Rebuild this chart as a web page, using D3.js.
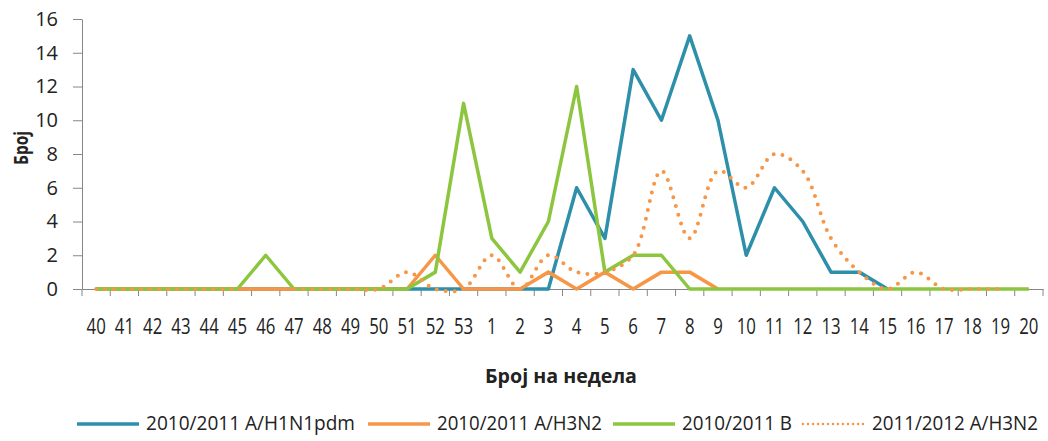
<!DOCTYPE html>
<html>
<head>
  <meta charset="utf-8">
  <title>Број на недела</title>
  <style>
    body { margin: 0; background: #fff; }
    text { font-family: "Open Sans", sans-serif; fill: #222; }
  </style>
</head>
<body>
  <script src="https://cdn.jsdelivr.net/npm/d3@7"></script>
  <script>
  'use strict'

  const weeks = ['40','41','42','43','44','45','46','47','48','49','50','51','52','53',
    '1','2','3','4','5','6','7','8','9','10','11','12','13','14','15','16','17','18','19','20']
  const yTicks = [0, 2, 4, 6, 8, 10, 12, 14, 16]

  // null = no value for that week
  const h1n1 = [0,0,0,0,0,0,0,0,0,0,0,0,0,0, 0,0,0,6,3,13,10,15,10,2,6,4,1,1,0,
    null,null,null,null,null]
  const h3n2 = [0,0,0,0,0,0,0,0,0,0,0,0,2,0, 0,0,1,0,1,0,1,1,0,
    null,null,null,null,null,null,null,null,null,null,null]
  const fluB = [0,0,0,0,0,0,2,0,0,0,0,0,1,11, 3,1,4,12,1,2,2,0,0,0,0,0,0,0,0,0,0,0,0,0]
  const h3n2next = [0,0,0,0,0,0,0,0,0,0,0,1,0,0, 2,0,2,1,1,2,7,3,7,6,8,7,3,1,0,1,0,0,0,null]

  const series = [
    { name: '2010/2011 A/H1N1pdm', values: h1n1, color: '#2e8fab', dotted: false },
    { name: '2010/2011 A/H3N2', values: h3n2, color: '#f79646', dotted: false },
    { name: '2010/2011 B', values: fluB, color: '#8cc63f', dotted: false },
    { name: '2011/2012 A/H3N2', values: h3n2next, color: '#f79646', dotted: true }
  ]

  const w = 1048
  const h = 441
  const plotLeft = 82, plotRight = 1043, plotTop = 19, plotBottom = 289

  const svg = d3.select('body').append('svg')
    .attr('width', w)
    .attr('height', h)

  const x = d3.scaleBand().domain(weeks).range([plotLeft, plotRight])
  const y = d3.scaleLinear().domain([0, 16]).range([plotBottom, plotTop])

  // y axis
  const yAxis = svg.append('g')
    .attr('transform', `translate(${plotLeft},0)`)
    .call(d3.axisLeft(y).tickValues(yTicks).tickSize(9).tickPadding(15).tickSizeOuter(0))
  yAxis.select('.domain').attr('stroke', '#868686')
  yAxis.selectAll('line').attr('stroke', '#868686')
  yAxis.selectAll('text').attr('font-size', '20px').attr('fill', '#222')
    .attr('font-family', '"Open Sans", sans-serif')

  // x axis, ticks between categories
  const xAxis = svg.append('g')
    .attr('transform', `translate(0,${plotBottom})`)
    .call(d3.axisBottom(x).tickSize(0).tickPadding(30).tickSizeOuter(0))
  xAxis.select('.domain').attr('stroke', '#868686')
  xAxis.selectAll('text').attr('font-size', '21px').attr('fill', '#222')
    .attr('font-family', '"Open Sans", sans-serif')
    .attr('transform', 'scale(0.8,1)')
  xAxis.selectAll('.tick').each(function () {
    d3.select(this).append('line')
      .attr('x1', -x.bandwidth() / 2).attr('x2', -x.bandwidth() / 2)
      .attr('y1', 0).attr('y2', 7)
      .attr('stroke', '#868686')
  })
  xAxis.append('line')
    .attr('x1', plotRight).attr('x2', plotRight).attr('y1', 0).attr('y2', 7)
    .attr('stroke', '#868686')

  // lines
  series.forEach(s => {
    const line = d3.line()
      .defined(d => d != null)
      .x((d, i) => x(weeks[i]) + x.bandwidth() / 2)
      .y(d => y(d))
      .curve(s.dotted ? d3.curveCatmullRom.alpha(0.5) : d3.curveLinear)
    svg.append('path')
      .datum(s.values)
      .attr('d', line)
      .attr('fill', 'none')
      .attr('stroke', s.color)
      .attr('stroke-width', s.dotted ? 4 : 3.5)
      .attr('stroke-linejoin', 'round')
      .attr('stroke-linecap', s.dotted ? 'round' : 'butt')
      .attr('stroke-dasharray', s.dotted ? '0 9' : null)
  })

  // axis titles
  svg.append('text')
    .attr('transform', `translate(28,148) rotate(-90)`)
    .attr('text-anchor', 'middle')
    .attr('font-size', '20px')
    .attr('font-weight', 'bold')
    .attr('textLength', 34)
    .attr('lengthAdjust', 'spacingAndGlyphs')
    .text('Број')

  svg.append('text')
    .attr('x', 485)
    .attr('y', 383)
    .attr('font-size', '19px')
    .attr('font-weight', 'bold')
    .attr('textLength', 152)
    .attr('lengthAdjust', 'spacingAndGlyphs')
    .text('Број на недела')

  // legend
  const legendX = [77, 368, 613, 803]
  const legendTextW = [209, 165, 110, 166]
  const legend = svg.append('g').attr('transform', 'translate(0,430)')
  series.forEach((s, i) => {
    const g = legend.append('g').attr('transform', `translate(${legendX[i]},0)`)
    g.append('line')
      .attr('x1', 0).attr('x2', 62).attr('y1', -6).attr('y2', -6)
      .attr('stroke', s.color)
      .attr('stroke-width', s.dotted ? 2.5 : 3.5)
      .attr('stroke-linecap', s.dotted ? 'round' : 'butt')
      .attr('stroke-dasharray', s.dotted ? '0 5' : null)
    g.append('text')
      .attr('x', 69)
      .attr('font-size', '20px')
      .attr('textLength', legendTextW[i])
      .attr('lengthAdjust', 'spacingAndGlyphs')
      .text(s.name)
  })
  </script>
</body>
</html>
